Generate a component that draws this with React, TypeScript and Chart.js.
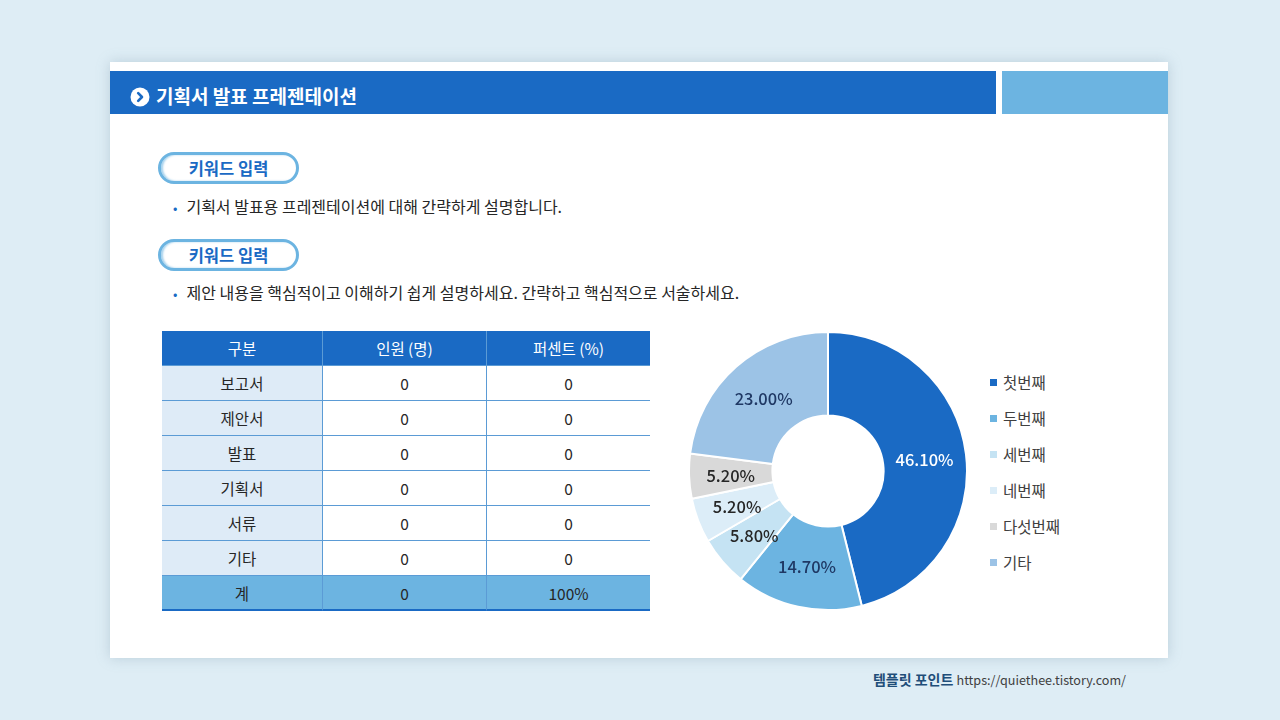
import React, { useEffect, useRef } from "react";
import { Chart, registerables } from "chart.js";

Chart.register(...registerables);

const sliceLabels = ["첫번째", "두번째", "세번째", "네번째", "다섯번째", "기타"];
const sliceValues = [46.1, 14.7, 5.8, 5.2, 5.2, 23.0];
const sliceColors = ["#1a6ac4", "#6cb4e1", "#c5e3f3", "#dcedf8", "#d9d9d9", "#9cc3e6"];
const sliceLabelColors = ["#ffffff", "#1f3864", "#262626", "#262626", "#262626", "#1f3864"];

const tableHeaders = ["구분", "인원 (명)", "퍼센트 (%)"];
const rowNames = ["보고서", "제안서", "발표", "기획서", "서류", "기타"];
const rowCounts = ["0", "0", "0", "0", "0", "0"];
const rowPercents = ["0", "0", "0", "0", "0", "0"];
const totalRow = ["계", "0", "100%"];

const FONT = "'Noto Sans CJK KR', 'Noto Sans', sans-serif";

const labelPlugin = {
  id: "sliceLabels",
  afterDatasetsDraw(chart: any) {
    const ctx = chart.ctx;
    const meta = chart.getDatasetMeta(0);
    ctx.save();
    ctx.font = `500 16.5px ${FONT}`;
    ctx.textAlign = "center";
    ctx.textBaseline = "middle";
    meta.data.forEach((arc: any, i: number) => {
      const p = arc.tooltipPosition();
      ctx.fillStyle = sliceLabelColors[i];
      ctx.fillText(sliceValues[i].toFixed(2) + "%", p.x, p.y + 1);
    });
    ctx.restore();
  },
};

function Doughnut() {
  const ref = useRef<HTMLCanvasElement>(null);
  useEffect(() => {
    if (!ref.current) return;
    const chart = new Chart(ref.current, {
      type: "doughnut",
      data: {
        labels: sliceLabels,
        datasets: [
          {
            data: sliceValues,
            backgroundColor: sliceColors,
            borderColor: "#ffffff",
            borderWidth: 2,
          },
        ],
      },
      options: {
        animation: false,
        responsive: true,
        maintainAspectRatio: false,
        cutout: "40%",
        layout: { padding: 0 },
        plugins: { legend: { display: false }, tooltip: { enabled: false } },
      },
      plugins: [labelPlugin],
    });
    return () => chart.destroy();
  }, []);
  return <canvas ref={ref} />;
}

function Pill({ top }: { top: number }) {
  return (
    <div
      style={{
        position: "absolute",
        left: 158,
        top,
        width: 141,
        height: 32,
        boxSizing: "border-box",
        border: "3px solid #6cb4e1",
        borderRadius: 16,
        background: "#fff",
        boxShadow: "inset 2px 0 2px rgba(108,180,225,0.6)",
        display: "flex",
        alignItems: "center",
        justifyContent: "center",
        color: "#1a6ac4",
        fontWeight: 700,
        fontSize: 16.5,
        fontFamily: FONT,
      }}
    >
      키워드 입력
    </div>
  );
}

function Bullet({ top, text }: { top: number; text: string }) {
  return (
    <div
      style={{
        position: "absolute",
        left: 173,
        top,
        fontFamily: FONT,
        fontSize: 16,
        color: "#262626",
        whiteSpace: "nowrap",
        lineHeight: "20px",
      }}
    >
      <span style={{ color: "#1a6ac4", marginRight: 9, fontSize: 13 }}>•</span>
      {text}
    </div>
  );
}

export default function App() {
  const rowH = 35;
  const cols = [162, 323, 487, 650];
  const cellBase: React.CSSProperties = {
    boxSizing: "border-box",
    display: "flex",
    alignItems: "center",
    justifyContent: "center",
    fontFamily: FONT,
    fontSize: 15.5,
  };
  const renderRow = (cells: string[], top: number, kind: "head" | "body" | "total", key: string) => (
    <div key={key}>
      {cells.map((c, j) => {
        let bg = "#fff";
        let color = "#262626";
        if (kind === "head") {
          bg = "#1a6ac4";
          color = "#fff";
        } else if (kind === "total") {
          bg = "#6cb4e1";
        } else if (j === 0) {
          bg = "#deebf7";
        }
        return (
          <div
            key={j}
            style={{
              ...cellBase,
              position: "absolute",
              left: cols[j],
              top,
              width: cols[j + 1] - cols[j],
              height: rowH,
              background: bg,
              color,
              borderRight: j < 2 ? "1px solid #5b9bd5" : "none",
              borderBottom: kind === "total" ? "2px solid #1a6ac4" : "1px solid #5b9bd5",
            }}
          >
            {c}
          </div>
        );
      })}
    </div>
  );

  return (
    <div
      style={{
        position: "fixed",
        left: 0,
        top: 0,
        width: 1280,
        height: 720,
        background: "#deedf5",
        overflow: "hidden",
        fontFamily: FONT,
      }}
    >
      {/* card */}
      <div
        style={{
          position: "absolute",
          left: 110,
          top: 62,
          width: 1058,
          height: 596,
          background: "#fff",
          boxShadow: "0 0 12px rgba(120,150,170,0.35)",
        }}
      />
      {/* header */}
      <div style={{ position: "absolute", left: 110, top: 71, width: 886, height: 43, background: "#1a6ac4" }} />
      <div style={{ position: "absolute", left: 1002, top: 71, width: 166, height: 43, background: "#6cb4e1" }} />
      <svg style={{ position: "absolute", left: 130, top: 87 }} width="20" height="20" viewBox="0 0 20 20">
        <circle cx="10" cy="10" r="9.5" fill="#ffffff" />
        <path d="M8.2 6.2 L12 10 L8.2 13.8" stroke="#1a6ac4" strokeWidth="2.6" fill="none" strokeLinecap="round" strokeLinejoin="round" />
      </svg>
      <div
        style={{
          position: "absolute",
          left: 156,
          top: 83,
          color: "#fff",
          fontWeight: 700,
          fontSize: 19,
          lineHeight: "26px",
          whiteSpace: "nowrap",
        }}
      >
        기획서 발표 프레젠테이션
      </div>

      <Pill top={152} />
      <Bullet top={196} text="기획서 발표용 프레젠테이션에 대해 간략하게 설명합니다." />
      <Pill top={239} />
      <Bullet top={282} text="제안 내용을 핵심적이고 이해하기 쉽게 설명하세요. 간략하고 핵심적으로 서술하세요." />

      {/* table */}
      {renderRow(tableHeaders, 331, "head", "h")}
      {rowNames.map((n, i) => renderRow([n, rowCounts[i], rowPercents[i]], 366 + i * rowH, "body", "r" + i))}
      {renderRow(totalRow, 366 + rowNames.length * rowH, "total", "t")}

      {/* doughnut */}
      <div style={{ position: "absolute", left: 688, top: 330.5, width: 280, height: 280 }}>
        <Doughnut />
      </div>

      {/* legend */}
      <div style={{ position: "absolute", left: 990, top: 372 }}>
        {sliceLabels.map((l, i) => (
          <div
            key={l}
            style={{ height: 36, display: "flex", alignItems: "flex-start", fontSize: 15.5, color: "#404040", lineHeight: "20px" }}
          >
            <span
              style={{
                display: "inline-block",
                width: 7,
                height: 7,
                background: sliceColors[i],
                marginTop: 7,
                marginRight: 6,
              }}
            />
            {l}
          </div>
        ))}
      </div>

      {/* footer */}
      <div
        style={{
          position: "absolute",
          right: 154,
          top: 669,
          fontSize: 14,
          whiteSpace: "nowrap",
          color: "#404040",
          lineHeight: "20px",
        }}
      >
        <span style={{ fontWeight: 700, color: "#1f4e79" }}>템플릿 포인트</span>{" "}
        <span style={{ fontSize: 12.6 }}>https://quiethee.tistory.com/</span>
      </div>
    </div>
  );
}
